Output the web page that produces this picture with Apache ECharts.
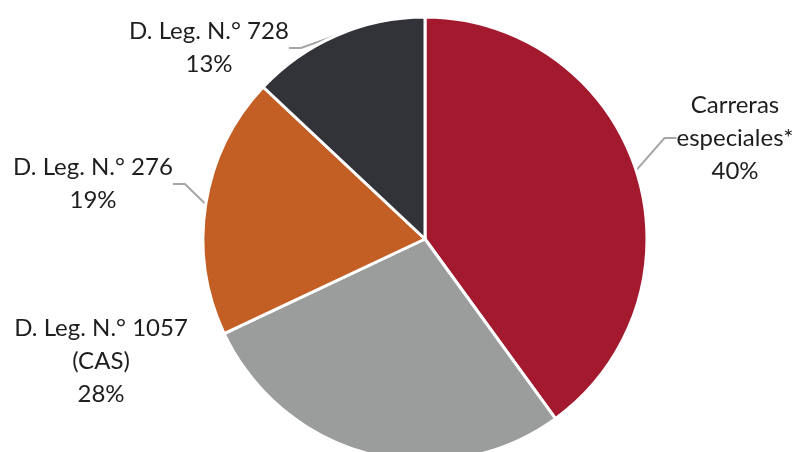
<!DOCTYPE html>
<html>
<head>
<meta charset="utf-8">
<script src="https://cdn.jsdelivr.net/npm/echarts@6/dist/echarts.min.js"></script>
<style>
  html, body { margin: 0; padding: 0; background: #fff; }
  #chart { width: 802px; height: 452px; }
</style>
</head>
<body>
<div id="chart"></div>
<script>
// data
const names = ["Carreras\nespeciales*", "D. Leg. N.° 1057\n(CAS)", "D. Leg. N.° 276", "D. Leg. N.° 728"];
const values = [40, 28, 19, 13];
const colors = ["#A31A2F", "#9B9D9D", "#C35F25", "#323338"];

// where each label block sits (center)
const labelPos = [[735, 138], [101, 361], [93, 184], [209, 48]];
const showLine = [true, false, true, true];

const chart = echarts.init(document.getElementById("chart"));

chart.setOption({
  animation: false,
  series: [
    {
      type: "pie",
      center: [425, 239],
      radius: 222,
      startAngle: 90,
      clockwise: true,
      itemStyle: {
        borderColor: "#fff",
        borderWidth: 3,
      },
      label: {
        show: true,
        position: "outside",
        formatter: (p) => p.name + "\n" + p.value + "%",
        fontFamily: "Lato",
        fontSize: 24,
        lineHeight: 33,
        color: "#1e1e1e",
        align: "center",
      },
      labelLine: {
        show: true,
        length: 15,
        length2: 12,
        lineStyle: { color: "#a6a6a6", width: 2 },
      },
      labelLayout: function (params) {
        const p = labelPos[params.dataIndex];
        return {
          x: p[0],
          y: p[1],
          align: "center",
          verticalAlign: "middle",
        };
      },
      data: names.map((n, i) => ({
        name: n,
        value: values[i],
        itemStyle: { color: colors[i] },
        labelLine: { show: showLine[i] },
      })),
    },
  ],
});
</script>
</body>
</html>
